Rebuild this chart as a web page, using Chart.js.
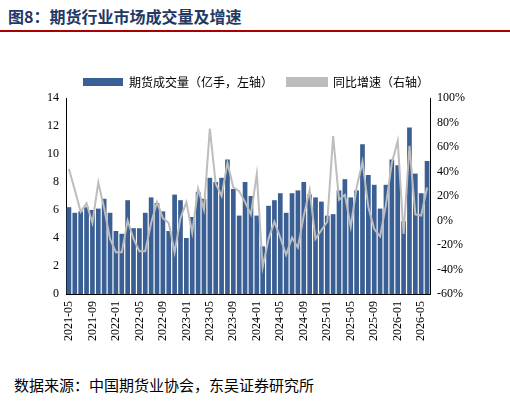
<!DOCTYPE html>
<html><head><meta charset="utf-8">
<script src="https://cdn.jsdelivr.net/npm/chart.js@4"></script>
<style>
body{margin:0;width:510px;height:402px;background:#fff;font-family:"Noto Sans CJK SC",sans-serif;overflow:hidden}
#title{position:absolute;left:8px;top:4px;font-size:16px;font-weight:bold;color:#1f3864;font-family:"Noto Sans CJK SC",serif}
#rule{position:absolute;left:0;top:30px;width:510px;border-top:2px solid #a00}
#src{position:absolute;left:14px;top:374px;font-size:15px;color:#000}
#wrap{position:absolute;left:0;top:62px;width:510px;height:282px}
</style></head><body>
<div id="title">图8：期货行业市场成交量及增速</div>
<div id="rule"></div>
<div id="wrap"><canvas id="c"></canvas></div>
<div id="src">数据来源：中国期货业协会，东吴证券研究所</div>
<script>
const volume = [6.2,5.8,5.9,6.2,6.0,6.1,6.8,5.8,4.5,4.3,6.7,4.7,4.7,5.8,6.9,6.5,5.9,4.5,7.1,6.7,4.0,5.5,7.3,6.8,8.3,8.0,8.3,9.6,7.5,5.6,8.0,7.0,
  5.6,3.4,6.3,6.7,7.2,5.8,7.2,7.4,8.0,7.1,6.9,6.6,5.6,5.7,7.4,8.2,6.9,7.4,10.7,8.5,7.8,6.1,7.8,9.6,9.2,5.2,11.9,8.6,7.2,9.5];
const growth = [42,25,7,14,-2,31,10,-15,-26,-26,0,-15,-25,-25,-2,15,2,-2,-26,2,15,-10,26,9,75,30,20,47,27,24,15,5,
  38,-38,-15,-1,-14,-28,-14,-22,4,25,-15,-8,-1,69,17,21,-5,27,48,11,-7,-13,13,47,65,-11,61,5,4,27];
const months = [];
for (let i = 0; i < volume.length; i++) {
  const m = 4 + i, y = 2021 + Math.floor(m / 12);
  months.push(y + "-" + String(m % 12 + 1).padStart(2, "0"));
}
Chart.defaults.font.family = "'Times New Roman','Liberation Serif',serif";
Chart.defaults.font.size = 12;
Chart.defaults.color = "#000";
new Chart(document.getElementById("c"), {
  data: {
    labels: months,
    datasets: [
      { type: "line", label: "同比增速（右轴）", data: growth, yAxisID: "y1", borderColor: "#bdbdbd",
        backgroundColor: "#bdbdbd", borderWidth: 2, pointRadius: 0, tension: 0 },
      { type: "bar", label: "期货成交量（亿手，左轴）", data: volume, yAxisID: "y", backgroundColor: "#3a5f95",
        categoryPercentage: 1, barPercentage: 0.8 }
    ]
  },
  options: {
    responsive: true, maintainAspectRatio: false, animation: false,
    layout: { padding: { left: 44, right: 42, top: 0 } },
    plugins: {
      legend: { reverse: true, labels: { font: { family: "'Noto Sans CJK SC'", size: 12 }, boxWidth: 40, boxHeight: 8, padding: 14 } },
      tooltip: { enabled: false }
    },
    scales: {
      x: { grid: { display: false, drawTicks: true, tickLength: 4 }, border: { color: "#000" },
        ticks: { autoSkip: false, maxRotation: 90, minRotation: 90, callback: (v, i) => i % 4 === 0 ? months[i] : "" } },
      y: { min: 0, max: 14, position: "left", grid: { display: false, drawTicks: true, tickLength: 4 }, border: { color: "#000" },
        ticks: { stepSize: 2 } },
      y1: { min: -60, max: 100, position: "right", grid: { display: false, drawTicks: true, tickLength: 4 }, border: { color: "#000" },
        ticks: { stepSize: 20, callback: v => v + "%" } }
    }
  }
});
</script></body></html>
